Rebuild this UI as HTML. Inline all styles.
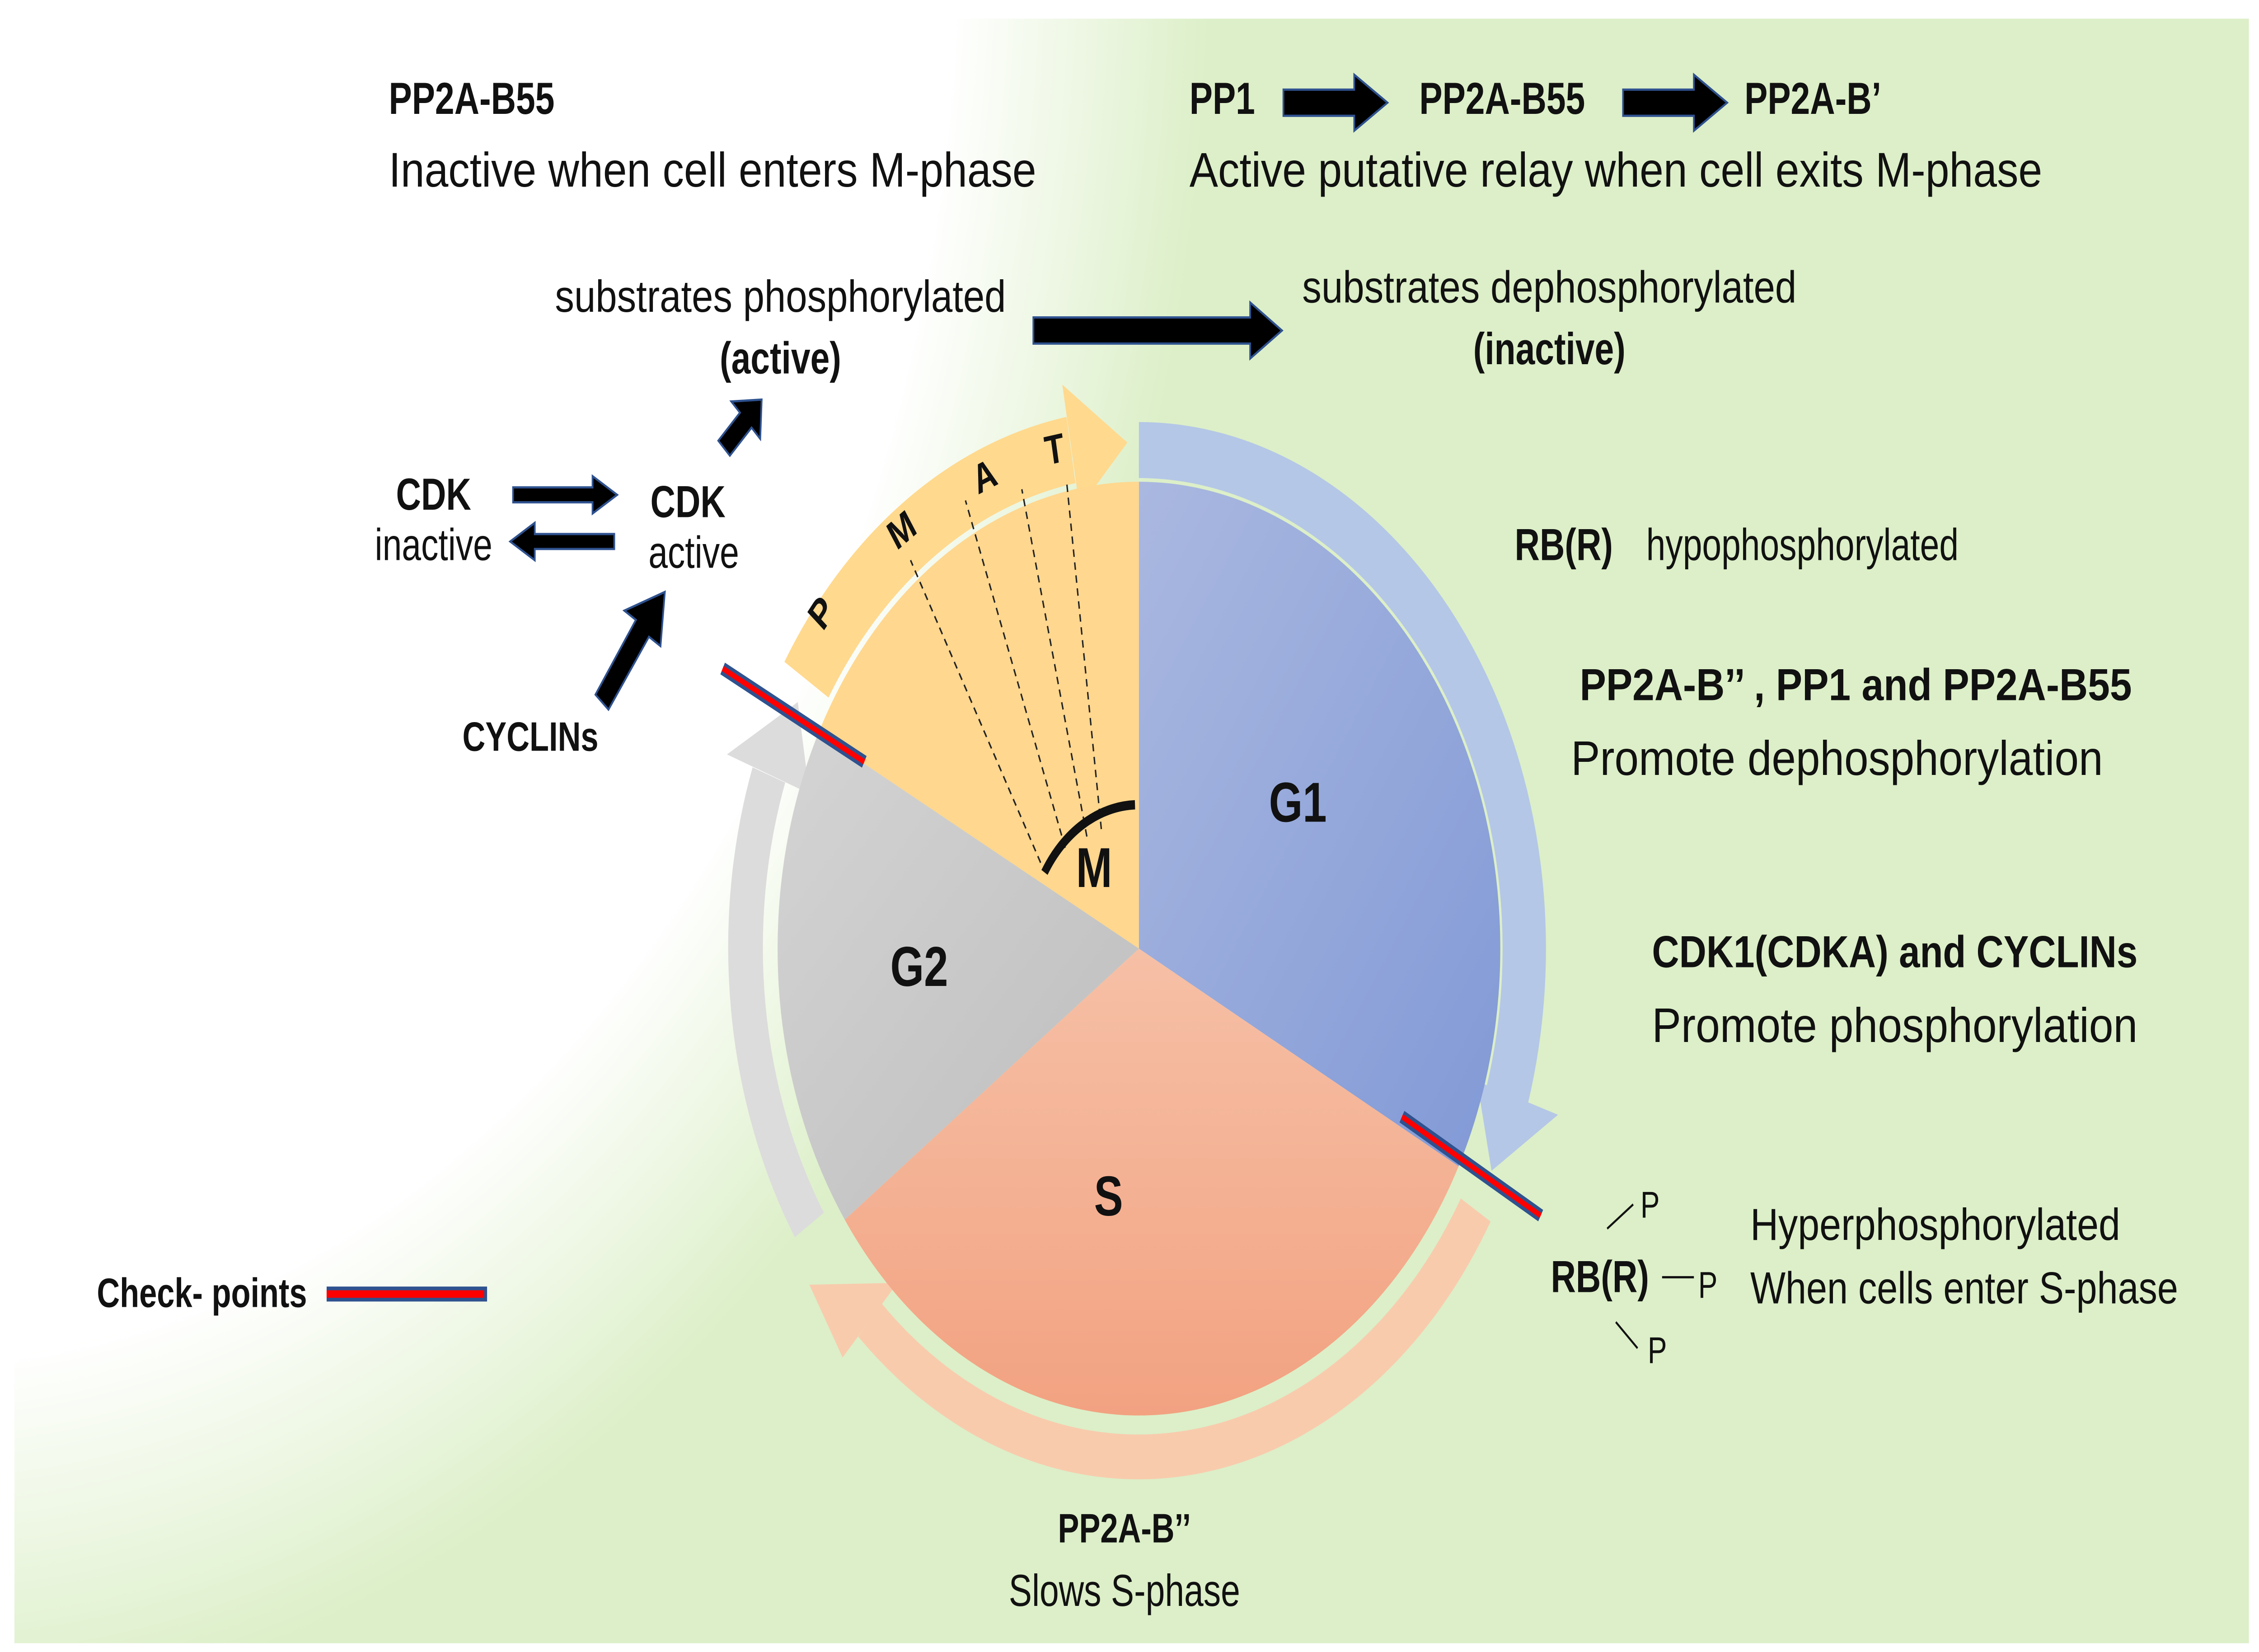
<!DOCTYPE html>
<html><head><meta charset="utf-8"><style>html,body{margin:0;padding:0;background:#fff;width:100%;height:100%;overflow:hidden}svg{display:block;width:100vw;height:100vh}</style></head>
<body>
<svg viewBox="0 0 1563 884.7" preserveAspectRatio="none" xmlns="http://www.w3.org/2000/svg" font-family="'Liberation Sans', sans-serif">
<defs>
<radialGradient id="bg" gradientUnits="userSpaceOnUse" cx="0" cy="0" r="1" gradientTransform="translate(-60,-40) scale(900,960)">
<stop offset="0.80" stop-color="#ffffff"/><stop offset="1" stop-color="#dcefc8"/>
</radialGradient>
<linearGradient id="g1" x1="0" y1="0" x2="1" y2="1"><stop offset="0" stop-color="#aab8e0"/><stop offset="1" stop-color="#8199d6"/></linearGradient>
<linearGradient id="gs" x1="0" y1="0" x2="0" y2="1"><stop offset="0" stop-color="#f6c0a6"/><stop offset="1" stop-color="#f2a281"/></linearGradient>
<linearGradient id="gg" x1="0" y1="0" x2="1" y2="1"><stop offset="0" stop-color="#d4d4d4"/><stop offset="1" stop-color="#bdbdbd"/></linearGradient>
</defs>
<rect x="0" y="0" width="1563" height="884.7" fill="#fff"/>
<rect x="10" y="10" width="1546" height="870" fill="url(#bg)"/>

<path d="M788,241 A267,267 0 0 1 1043,586" fill="none" stroke="#b4c7e7" stroke-width="30"/>
<polygon points="1022,579 1078,597 1032,627" fill="#b4c7e7"/>
<path d="M1021,648 A272,272 0 0 1 602,707" fill="none" stroke="#f8cbad" stroke-width="24"/>
<polygon points="621,687 583,727 560,688" fill="#f8cbad"/>
<path d="M560,656 A272,272 0 0 1 532,415" fill="none" stroke="#dcdcdc" stroke-width="24"/>
<polygon points="560,425 503,404 552,376" fill="#dcdcdc"/>
<path d="M558,364 A271,271 0 0 1 741,241" fill="none" stroke="#ffd98e" stroke-width="36"/>
<polygon points="747,272 735,206 780,237" fill="#ffd98e"/>

<path d="M788,508 L788,258 A250,250 0 0 1 1009.2,624.6 Z" fill="url(#g1)"/>
<path d="M788,508 L1009.2,624.6 A250,250 0 0 1 584.5,653.2 Z" fill="url(#gs)"/>
<path d="M788,508 L584.5,653.2 A250,250 0 0 1 566.3,392.5 Z" fill="url(#gg)"/>
<path d="M788,508 L566.3,392.5 A250,250 0 0 1 788,258 Z" fill="#ffd78e"/>
<g stroke="#222" stroke-width="1" stroke-dasharray="4,3">
<line x1="720" y1="462" x2="630" y2="300"/>
<line x1="737" y1="454" x2="668" y2="268"/>
<line x1="752" y1="448" x2="707" y2="262"/>
<line x1="762" y1="444" x2="738" y2="258"/>
</g>
<path d="M722.7,467.2 A77,77 0 0 1 785.3,431" fill="none" stroke="#111" stroke-width="5"/>

<g font-weight="bold" font-size="22" fill="#111" text-anchor="middle">
<text transform="translate(574,333) rotate(-50)">P</text>
<text transform="translate(628,290) rotate(-34)">M</text>
<text transform="translate(684,262) rotate(-22)">A</text>
<text transform="translate(731,248) rotate(-10)">T</text>
</g>

<g font-weight="bold" fill="#111" text-anchor="middle">
<text x="898" y="440" font-size="30">G1</text>
<text x="636" y="528" font-size="30">G2</text>
<text x="767" y="651" font-size="30">S</text>
<text x="757" y="475" font-size="30">M</text>
</g>

<g stroke-linecap="butt">
<line x1="500" y1="358" x2="598" y2="408" stroke="#2f528f" stroke-width="7"/>
<line x1="500" y1="358" x2="598" y2="408" stroke="#ff0000" stroke-width="3"/>
<line x1="970" y1="598" x2="1066" y2="651" stroke="#2f528f" stroke-width="7"/>
<line x1="970" y1="598" x2="1066" y2="651" stroke="#ff0000" stroke-width="3"/>
<line x1="226" y1="693" x2="337" y2="693" stroke="#2f528f" stroke-width="8"/>
<line x1="226" y1="693" x2="335" y2="693" stroke="#ff0000" stroke-width="4"/>
</g>

<g fill="#000" stroke="#2f528f" stroke-width="1.2">
<polygon points="888,48 937,48 937,40 960,55 937,70 937,62 888,62"/>
<polygon points="1123,48 1172,48 1172,40 1195,55 1172,70 1172,62 1123,62"/>
<polygon points="715,170 865,170 865,162 887,177 865,192 865,184 715,184"/>
<polygon points="355,261 410,261 410,255 427,265 410,275 410,269 355,269"/>
<polygon points="425,286 370,286 370,280 353,290 370,300 370,294 425,294"/>
<polygon points="497,236 512,221 506,215 527,214 526,235 520,229 505,244"/>
<polygon points="412,372 440,332 432,327 460,317 457,346 449,341 421,380"/>
</g>

<g fill="#111" font-size="24">
<text x="269" y="61" font-weight="bold" font-size="24">PP2A-B55</text>
<text x="269" y="100" font-size="26" textLength="448" lengthAdjust="spacingAndGlyphs">Inactive when cell enters M-phase</text>
<text x="823" y="61" font-weight="bold">PP1</text>
<text x="982" y="61" font-weight="bold">PP2A-B55</text>
<text x="1207" y="61" font-weight="bold">PP2A-B’</text>
<text x="823" y="100" font-size="26" textLength="590" lengthAdjust="spacingAndGlyphs">Active putative relay when cell exits M-phase</text>
<text x="540" y="167" text-anchor="middle" textLength="312" lengthAdjust="spacingAndGlyphs">substrates phosphorylated</text>
<text x="540" y="200" text-anchor="middle" font-weight="bold">(active)</text>
<text x="1072" y="162" text-anchor="middle" textLength="342" lengthAdjust="spacingAndGlyphs">substrates dephosphorylated</text>
<text x="1072" y="195" text-anchor="middle" font-weight="bold">(inactive)</text>
<text x="300" y="273" text-anchor="middle" font-weight="bold">CDK</text>
<text x="300" y="300" text-anchor="middle">inactive</text>
<text x="476" y="277" text-anchor="middle" font-weight="bold">CDK</text>
<text x="480" y="304" text-anchor="middle">active</text>
<text x="367" y="402" text-anchor="middle" font-weight="bold" font-size="22">CYCLINs</text>
<text x="67" y="700" font-weight="bold" font-size="22">Check- points</text>
<text x="1048" y="300" font-weight="bold">RB(R)</text>
<text x="1139" y="300">hypophosphorylated</text>
<text x="1093" y="375" font-weight="bold" textLength="382" lengthAdjust="spacingAndGlyphs">PP2A-B’’ , PP1 and PP2A-B55</text>
<text x="1087" y="415" font-size="26" textLength="368" lengthAdjust="spacingAndGlyphs">Promote dephosphorylation</text>
<text x="1143" y="518" font-weight="bold" textLength="336" lengthAdjust="spacingAndGlyphs">CDK1(CDKA) and CYCLINs</text>
<text x="1143" y="558" font-size="26" textLength="336" lengthAdjust="spacingAndGlyphs">Promote phosphorylation</text>
<text x="1073" y="692" font-weight="bold">RB(R)</text>
<text x="1135" y="652" font-size="20">P</text>
<text x="1175" y="695" font-size="20">P</text>
<text x="1140" y="730" font-size="20">P</text>
<text x="1211" y="664" textLength="256" lengthAdjust="spacingAndGlyphs">Hyperphosphorylated</text>
<text x="1211" y="698" textLength="296" lengthAdjust="spacingAndGlyphs">When cells enter S-phase</text>
<text x="778" y="826" text-anchor="middle" font-weight="bold" font-size="22">PP2A-B’’</text>
<text x="778" y="860" text-anchor="middle">Slows S-phase</text>
</g>
<g stroke="#111" stroke-width="1.2">
<line x1="1112" y1="658" x2="1130" y2="645"/>
<line x1="1150" y1="684" x2="1172" y2="684"/>
<line x1="1118" y1="708" x2="1133" y2="722"/>
</g>
</svg>
</body></html>
